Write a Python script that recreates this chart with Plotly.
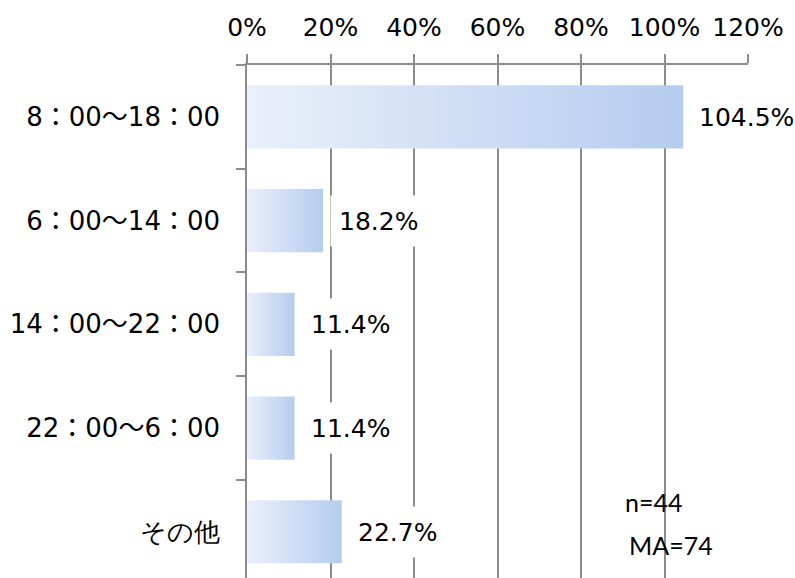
import plotly.graph_objects as go

# Working-hour patterns and share of respondents (%)
categories = ["8：00～18：00", "6：00～14：00", "14：00～22：00", "22：00～6：00", "その他"]
values = [104.5, 18.2, 11.4, 11.4, 22.7]
x_ticks = [0, 20, 40, 60, 80, 100, 120]
x_tick_labels = ["0%", "20%", "40%", "60%", "80%", "100%", "120%"]
sample_notes = ["n=44", "MA=74"]

GRID = "#8c8c8c"
GRAD = [[0, "#eaf0fa"], [1, "#b5ccef"]]
HALF = 0.304          # half bar thickness in category units
Y_RANGE = [4.445, -0.5]
CJK = "Noto Sans CJK JP"


def cjk_label(text):
    """Render full-width punctuation with the CJK face, digits with DejaVu."""
    out = ""
    for ch in text:
        if ch in "：～":
            out += f"<span style='font-family:{CJK}'>{ch}</span>"
        else:
            out += ch
    return out


fig = go.Figure()

# category axis carrier (invisible bars)
fig.add_trace(go.Bar(
    x=values, y=categories, orientation="h",
    marker=dict(color="rgba(0,0,0,0)", line=dict(width=0)),
    hoverinfo="skip", showlegend=False,
))

# gradient-filled bars, one shape per category
for i, v in enumerate(values):
    fig.add_trace(go.Scatter(
        x=[0, v, v, 0, 0],
        y=[i - HALF, i - HALF, i + HALF, i + HALF, i - HALF],
        yaxis="y2", mode="lines", line=dict(width=0),
        fill="toself",
        fillgradient=dict(type="horizontal", colorscale=GRAD),
        hoverinfo="skip", showlegend=False,
    ))

# value labels
for cat, v in zip(categories, values):
    fig.add_annotation(
        x=v, y=cat, xref="x", yref="y", text=f"{v:.1f}%",
        xanchor="left", yanchor="middle", xshift=7,
        showarrow=False, bgcolor="white", borderpad=8, borderwidth=1,
        bordercolor="rgba(0,0,0,0)", height=34,
        font=dict(family="DejaVu Sans", size=25, color="black"),
    )

# sample size notes
for txt, xp, yp in zip(sample_notes, [0.75, 0.758], [0.148, 0.064]):
    fig.add_annotation(
        x=xp, y=yp, xref="paper", yref="paper", text=txt,
        xanchor="left", yanchor="middle", showarrow=False,
        font=dict(family="Lato", size=25, color="black"),
    )

fig.update_layout(
    width=795, height=578,
    margin=dict(l=247, r=47, t=65, b=0),
    paper_bgcolor="white", plot_bgcolor="white",
    font=dict(family="DejaVu Sans", size=25, color="black"),
    showlegend=False,
    bargap=0.39,
    xaxis=dict(
        side="top", range=[0, 120], tickvals=x_ticks, ticktext=x_tick_labels,
        showgrid=True, gridcolor=GRID, gridwidth=1.5,
        showline=True, linecolor=GRID, linewidth=1.5,
        ticks="outside", ticklen=9, tickcolor=GRID, tickwidth=1.5,
        ticklabelstandoff=8, zeroline=False, fixedrange=True,
    ),
    yaxis=dict(
        type="category", categoryorder="array", categoryarray=categories,
        tickmode="array", tickvals=categories,
        ticktext=[cjk_label(c) for c in categories],
        tickfont=dict(family="DejaVu Sans", size=26, color="black"),
        range=Y_RANGE, showgrid=False,
        showline=True, linecolor=GRID, linewidth=1.5,
        ticks="outside", ticklen=9, tickcolor=GRID, tickwidth=1.5,
        tickson="boundaries", ticklabelstandoff=20, fixedrange=True,
    ),
    yaxis2=dict(
        overlaying="y", range=Y_RANGE, visible=False, fixedrange=True,
    ),
)

fig.write_html("out.html")
